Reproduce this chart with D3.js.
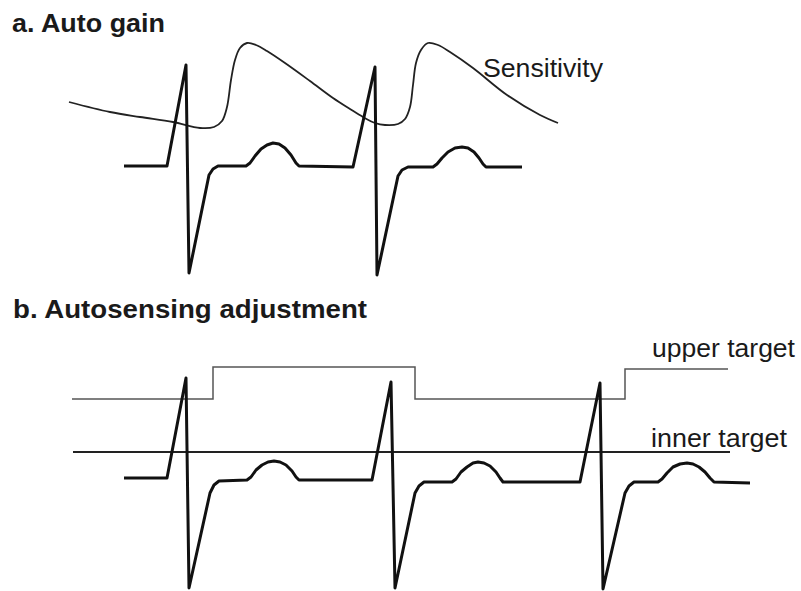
<!DOCTYPE html>
<html>
<head>
<meta charset="utf-8">
<script src="https://cdn.jsdelivr.net/npm/d3@7"></script>
<style>
  body { margin: 0; background: #fff; }
  svg { display: block; }
  .title { font-family: "Liberation Sans", Arial, sans-serif; font-weight: bold; font-size: 26px; fill: #1a1a1a; }
  .label { font-family: "Liberation Sans", Arial, sans-serif; font-size: 25px; fill: #1a1a1a; }
</style>
</head>
<body>
<svg width="801" height="591"></svg>
<script>
// time in ms, amplitude in mV-like units (0 = isoelectric line)
let ecgA = [
    [128, 0], [214, 0], [252, 1.01], [258, -1.07], [298, -0.09], [306, -0.03], [316, 0],
    [372, 0], [380, 0.03], [390, 0.10], [402, 0.17], [414, 0.21], [426, 0.23], [438, 0.22],
    [450, 0.18], [462, 0.11], [472, 0.03], [478, 0], [586, -0.01], [630, 0.99], [634, -1.09],
    [676, -0.10], [684, -0.04], [696, -0.01], [746, -0.01], [754, 0.02], [764, 0.08], [776, 0.14],
    [790, 0.18], [804, 0.19], [816, 0.18], [828, 0.14], [838, 0.08], [846, 0.02], [852, -0.01],
    [924, -0.01]
];
let sensitivityA = [
    [18, 0.64], [100, 0.54], [160, 0.49], [226, 0.44], [280, 0.38], [308, 0.39], [324, 0.45],
    [334, 0.59], [342, 0.86], [350, 1.06], [360, 1.18], [374, 1.23], [392, 1.21], [414, 1.15],
    [450, 1.03], [500, 0.85], [546, 0.68], [580, 0.57], [606, 0.49], [630, 0.43], [650, 0.41],
    [676, 0.42], [690, 0.47], [700, 0.59], [706, 0.81], [712, 1.03], [722, 1.16], [736, 1.23],
    [756, 1.21], [780, 1.14], [826, 0.98], [894, 0.71], [960, 0.51], [996, 0.43]
];
let ecgB = [
    [128, 0.02], [214, 0.02], [252, 1.02], [258, -1.08], [300, -0.13], [308, -0.05], [318, -0.01],
    [374, 0], [382, 0.03], [392, 0.10], [404, 0.15], [416, 0.18], [428, 0.19], [440, 0.18],
    [452, 0.15], [464, 0.09], [472, 0.03], [478, 0], [624, 0], [662, 0.98], [670, -1.08],
    [710, -0.13], [718, -0.06], [728, -0.02], [784, -0.02], [792, 0.01], [802, 0.08], [814, 0.13],
    [826, 0.17], [836, 0.18], [848, 0.17], [860, 0.14], [872, 0.08], [880, 0.02], [886, -0.02],
    [1040, -0.02], [1080, 0.97], [1086, -1.09], [1130, -0.13], [1138, -0.06], [1148, -0.02],
    [1196, -0.02], [1204, 0.01], [1214, 0.07], [1226, 0.13], [1240, 0.16], [1254, 0.17],
    [1266, 0.16], [1278, 0.13], [1290, 0.08], [1300, 0.02], [1308, -0.02], [1380, -0.03]
];
let upperTarget = [[24, 0.81], [306, 1.13], [710, 0.81], [1130, 1.11], [1336, 1.11]];
let innerTarget = [[26, 0.28], [1340, 0.28]];

let labelsA = [{text: "Sensitivity", t: 846, v: 0.89, len: 120}];
let labelsB = [
    {text: "upper target", t: 1184, v: 1.23, len: 143},
    {text: "inner target", t: 1182, v: 0.33, len: 136}
];

let svg = d3.select("svg");

let x = d3.scaleLinear().domain([0, 1400]).range([60, 760]),
    yA = d3.scaleLinear().domain([0, 1]).range([166, 66]),
    yB = d3.scaleLinear().domain([0, 1]).range([480, 380]);

function lineFor(y, curve) {
    return d3.line()
        .curve(curve || d3.curveLinear)
        .x(d => x(d[0]))
        .y(d => y(d[1]));
}

// panel titles
svg.append("text").attr("class", "title")
    .attr("x", 12).attr("y", 32)
    .attr("textLength", 153).attr("lengthAdjust", "spacingAndGlyphs")
    .text("a. Auto gain");
svg.append("text").attr("class", "title")
    .attr("x", 13).attr("y", 318)
    .attr("textLength", 354).attr("lengthAdjust", "spacingAndGlyphs")
    .text("b. Autosensing adjustment");

// a. Auto gain
svg.append("path")
    .datum(sensitivityA)
    .attr("d", lineFor(yA, d3.curveCatmullRom))
    .attr("fill", "none")
    .attr("stroke", "#222")
    .attr("stroke-width", 1.8);

svg.append("path")
    .datum(ecgA)
    .attr("d", lineFor(yA))
    .attr("fill", "none")
    .attr("stroke", "#111")
    .attr("stroke-width", 3)
    .attr("stroke-linejoin", "round");

svg.selectAll(".labelA")
    .data(labelsA)
    .enter().append("text")
    .attr("class", "label labelA")
    .attr("x", d => x(d.t))
    .attr("y", d => yA(d.v))
    .attr("textLength", d => d.len)
    .attr("lengthAdjust", "spacingAndGlyphs")
    .text(d => d.text);

// b. Autosensing adjustment
svg.append("path")
    .datum(upperTarget)
    .attr("d", lineFor(yB, d3.curveStepAfter))
    .attr("fill", "none")
    .attr("stroke", "#555")
    .attr("stroke-width", 1.5);

svg.append("path")
    .datum(innerTarget)
    .attr("d", lineFor(yB))
    .attr("fill", "none")
    .attr("stroke", "#222")
    .attr("stroke-width", 2);

svg.append("path")
    .datum(ecgB)
    .attr("d", lineFor(yB))
    .attr("fill", "none")
    .attr("stroke", "#111")
    .attr("stroke-width", 3)
    .attr("stroke-linejoin", "round");

svg.selectAll(".labelB")
    .data(labelsB)
    .enter().append("text")
    .attr("class", "label labelB")
    .attr("x", d => x(d.t))
    .attr("y", d => yB(d.v))
    .attr("textLength", d => d.len)
    .attr("lengthAdjust", "spacingAndGlyphs")
    .text(d => d.text);
</script>
</body>
</html>
